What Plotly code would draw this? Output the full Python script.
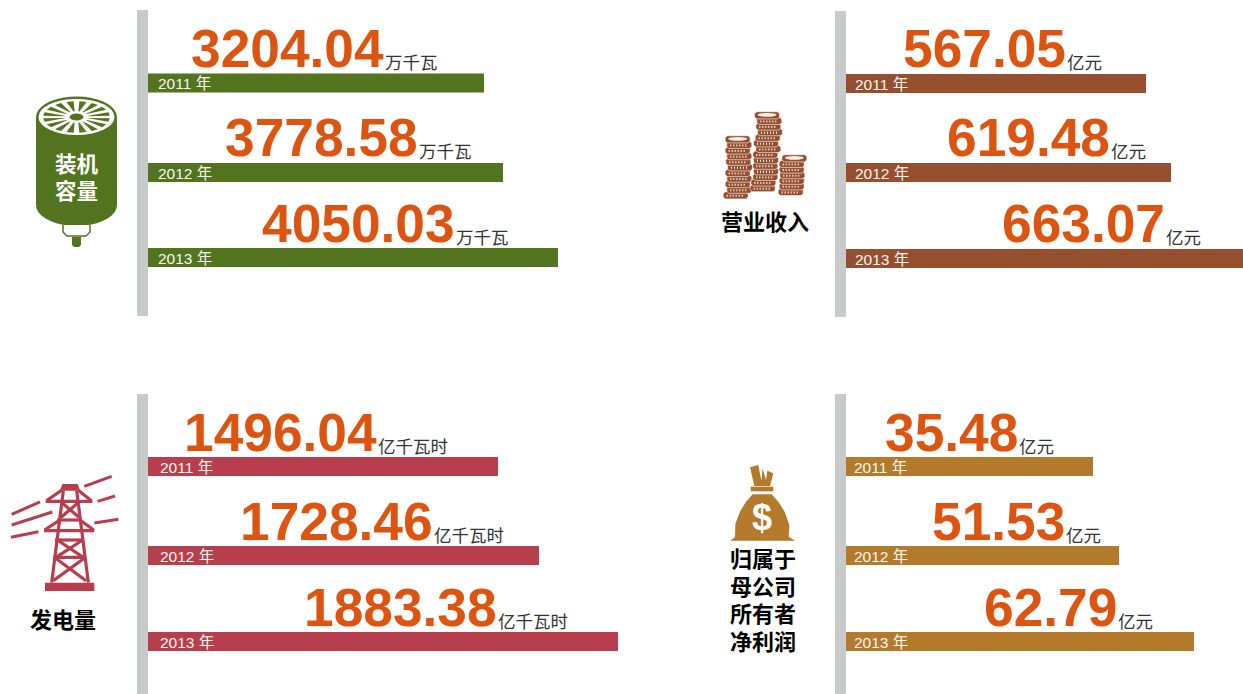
import math
import plotly.graph_objects as go

W, H = 1243, 694
FONT = "Liberation Sans, Arial, Noto Sans CJK SC, sans-serif"

# ---------- data ----------
years = ["2011 年", "2012 年", "2013 年"]
capacity_labels = ["3204.04", "3778.58", "4050.03"]
revenue_labels = ["567.05", "619.48", "663.07"]
generation_labels = ["1496.04", "1728.46", "1883.38"]
profit_labels = ["35.48", "51.53", "62.79"]
# drawn bar lengths (not proportional to the labels)
capacity_bars = [336, 355, 410]
revenue_bars = [300, 325, 397]
generation_bars = [350, 391, 470]
profit_bars = [247, 273, 348]

GREEN, BROWN, RED, GOLD = "#53741f", "#964f2e", "#b63e4d", "#b47a2c"
ORANGE, GREY = "#dd5410", "#c8caca"

panels = [
    dict(labels=capacity_labels, bars=capacity_bars, unit="万千瓦", color=GREEN, left=148, yr_x=157,
         spine=(137, 10, 316), bar_c=[83, 172.5, 257.5], base=[68, 157, 243], right=[384, 418, 455]),
    dict(labels=revenue_labels, bars=revenue_bars, unit="亿元", color=BROWN, left=846, yr_x=854,
         spine=(835, 11, 317), bar_c=[83.5, 172.5, 258.5], base=[68, 157, 243], right=[1066, 1110, 1165]),
    dict(labels=generation_labels, bars=generation_bars, unit="亿千瓦时", color=RED, left=148, yr_x=159,
         spine=(137, 394, 694), bar_c=[466.5, 555.5, 641.5], base=[452, 541, 627], right=[377, 433, 497]),
    dict(labels=profit_labels, bars=profit_bars, unit="亿元", color=GOLD, left=846, yr_x=853,
         spine=(835, 394, 694), bar_c=[466.5, 555.5, 641.5], base=[452, 541, 627], right=[1018, 1065, 1117]),
]

fig = go.Figure()
shapes, annos = [], []


def px(x):
    return x / W


def py(y):
    return 1 - y / H


def text(x, y, s, size, color, bold=False, anchor="center"):
    annos.append(dict(x=px(x), y=py(y), xref="paper", yref="paper", text=f"<b>{s}</b>" if bold else s,
                      showarrow=False, xanchor=anchor, yanchor="middle", borderpad=0,
                      font=dict(family=FONT, size=size, color=color)))


def path(pts, fill=None, line=None, lw=0, close=True):
    d = "M" + " L".join(f"{px(a):.5f},{py(b):.5f}" for a, b in pts) + (" Z" if close else "")
    shapes.append(dict(type="path", xref="paper", yref="paper", path=d, fillcolor=fill if fill else "rgba(0,0,0,0)",
                       line=dict(color=line if line else "rgba(0,0,0,0)", width=lw), layer="above"))


def seg(a, b, color, lw):
    path([a, b], None, color, lw, close=False)


def ell(cx, cy, rx, ry, fill, line=None, lw=0):
    shapes.append(dict(type="circle", xref="paper", yref="paper", x0=px(cx - rx), x1=px(cx + rx), y0=py(cy + ry),
                       y1=py(cy - ry), fillcolor=fill, line=dict(color=line if line else "rgba(0,0,0,0)", width=lw),
                       layer="above"))


def rect(x0, y0, x1, y1, fill):
    shapes.append(dict(type="rect", xref="paper", yref="paper", x0=px(x0), x1=px(x1), y0=py(y1), y1=py(y0),
                       fillcolor=fill, line=dict(width=0), layer="above"))


layout_axes = {}
for i, p in enumerate(panels, start=1):
    ax = "" if i == 1 else str(i)
    fig.add_trace(go.Bar(x=p["bars"], y=p["bar_c"], orientation="h", width=19, marker=dict(color=p["color"], line=dict(width=0)),
                         xaxis=f"x{ax}", yaxis="y", showlegend=False, hoverinfo="skip"))
    layout_axes[f"xaxis{ax}"] = dict(domain=[p["left"] / W, 1], range=[0, W - p["left"]], visible=False,
                                     anchor="y", fixedrange=True)
    sx, sy0, sy1 = p["spine"]
    rect(sx, sy0, sx + 11, sy1, GREY)
    for yr, c, b, r, lab in zip(years, p["bar_c"], p["base"], p["right"], p["labels"]):
        text(p["yr_x"], c + 0.7, yr, 15.5, "#f8f6f0", anchor="left")
        text(r + 1, b - 19.5, lab, 53.3, ORANGE, bold=True, anchor="right")
        text(r - 0.5, b - 5, p["unit"], 17.5, "#333333", anchor="left")

# ---------- icon 1: cylinder ----------
G = GREEN
body = [(36, 117)]
body += [(36, 205)]
body += [(76.5 + 40.5 * math.cos(math.radians(a)), 205 + 21 * math.sin(math.radians(a))) for a in range(180, -1, -10)]
body += [(117, 117)]
body += [(76.5 + 40.5 * math.cos(math.radians(a)), 117 - 20.5 * math.sin(math.radians(a))) for a in range(0, 181, 10)]
path(body, G)
ell(76.5, 117, 38, 18, "#ffffff")
spoke_count = 16
for k in range(spoke_count):
    a0 = 2 * math.pi * (k + 0.5) / spoke_count
    d = 0.11
    r0, r1 = 0.32, 0.88
    path([(76.5 + 38 * r0 * math.cos(a0 - d * 0.4), 117 + 18 * r0 * math.sin(a0 - d * 0.4)),
          (76.5 + 38 * r1 * math.cos(a0 - d), 117 + 18 * r1 * math.sin(a0 - d)),
          (76.5 + 38 * r1 * math.cos(a0 + d), 117 + 18 * r1 * math.sin(a0 + d)),
          (76.5 + 38 * r0 * math.cos(a0 + d * 0.4), 117 + 18 * r0 * math.sin(a0 + d * 0.4))], G)
ell(76.5, 117, 7, 3.5, G)
path([(63, 225), (63, 232), (67, 236), (86, 236), (90, 232), (90, 225)], "#ffffff", G, 1.5, close=False)
path([(72, 237), (81, 237), (81, 245), (79, 247), (74, 247), (72, 245)], G)
text(76.5, 165, "装机", 21.5, "#ffffff", bold=True)
text(76.5, 191, "容量", 21.5, "#ffffff", bold=True)

# ---------- icon 2: coins ----------
stacks = [
    (148, [113, 118, 113, 118, 115, 120, 113, 118, 113, 118, 107]),
    (76, [201, 208, 205, 210, 203, 198, 205, 196, 198, 196, 198, 196, 190, 188]),
    (205, [283, 275, 275, 277, 275, 275, 272]),
]
for top, xs in stacks:
    n = len(xs)
    for j in range(n - 1, -1, -1):
        cx = 700 + xs[j] / 3
        cy = 90 + (top + j * 16.8) / 3
        path([(cx - 12.5 + e, cy + s * h) for e, s, h in [(2, -1, 3.6), (0, -1, 1.5), (0, 1, 1.5), (2, 1, 3.6)]]
             + [(cx + 12.5 - e, cy + s * h) for e, s, h in [(2, 1, 3.6), (0, 1, 1.5), (0, -1, 1.5), (2, -1, 3.6)]],
             BROWN, "#ffffff", 0.6)
        if j == 0:
            ell(cx, cy - 0.5, 9.5, 1.9, "#f5efe8")
        else:
            shapes.append(dict(type="line", xref="paper", yref="paper", x0=px(cx - 9), x1=px(cx + 9),
                               y0=py(cy + 0.5), y1=py(cy + 0.5), line=dict(color="#ffffff", width=2, dash="1px,2px"),
                               layer="above"))
text(765, 222, "营业收入", 22, "#000000", bold=True)


# ---------- icon 3: tower ----------
def t(x, y):
    return (x / 3, 460 + y / 3)


for a, b in [((35, 163), (120, 126)), ((35, 195), (157, 156)), ((33, 232), (115, 215)),
             ((253, 79), (335, 49)), ((293, 124), (345, 108)), ((283, 189), (355, 178))]:
    seg(t(*a), t(*b), RED, 3)
path([t(187, 72), t(233, 72), t(240, 92), t(180, 92)], RED)
for a, b in [((190, 92), (155, 368)), ((230, 92), (265, 368)),
             ((137, 124), (277, 124)), ((140, 122), (186, 90)), ((274, 122), (234, 90)),
             ((132, 212), (283, 212)), ((134, 210), (177, 182)), ((281, 210), (243, 182)),
             ((172, 180), (245, 180)), ((165, 240), (252, 240)), ((160, 292), (258, 292)),
             ((183, 126), (237, 172)), ((237, 126), (183, 172)),
             ((172, 240), (250, 292)), ((248, 240), (168, 292)),
             ((166, 294), (258, 362)), ((254, 294), (160, 362))]:
    seg(t(*a), t(*b), RED, 3.2)
path([t(135, 368), t(283, 368), t(283, 393), t(135, 393)], RED)
text(63, 620, "发电量", 22, "#000000", bold=True)


# ---------- icon 4: money bag ----------
def m(x, y):
    return (710 + x / 3, 450 + y / 3)


path([m(*q) for q in [(60, 272), (75, 262), (76, 222), (90, 185), (108, 155), (128, 133), (185, 133), (205, 155),
                      (224, 185), (238, 225), (236, 260), (255, 272)]], GOLD)
rect(*m(122, 110), *m(190, 124), GOLD)
path([m(*q) for q in [(120, 52), (145, 45), (154, 92), (158, 55), (168, 90), (172, 62), (190, 70), (180, 108), (133, 108)]], GOLD)
text(762, 517, "$", 36, "#ffffff", bold=True)
for yy, line_txt in zip([559, 587, 614, 642], ["归属于", "母公司", "所有者", "净利润"]):
    text(763, yy, line_txt, 22, "#000000", bold=True)

fig.update_layout(
    width=W, height=H, margin=dict(l=0, r=0, t=0, b=0), paper_bgcolor="#ffffff", plot_bgcolor="rgba(0,0,0,0)",
    barmode="overlay", showlegend=False, shapes=shapes, annotations=annos,
    yaxis=dict(domain=[0, 1], range=[H, 0], visible=False, fixedrange=True),
    **layout_axes,
)
fig.write_html("out.html", config={"displayModeBar": False},
               post_script="document.body.style.margin='0';")
